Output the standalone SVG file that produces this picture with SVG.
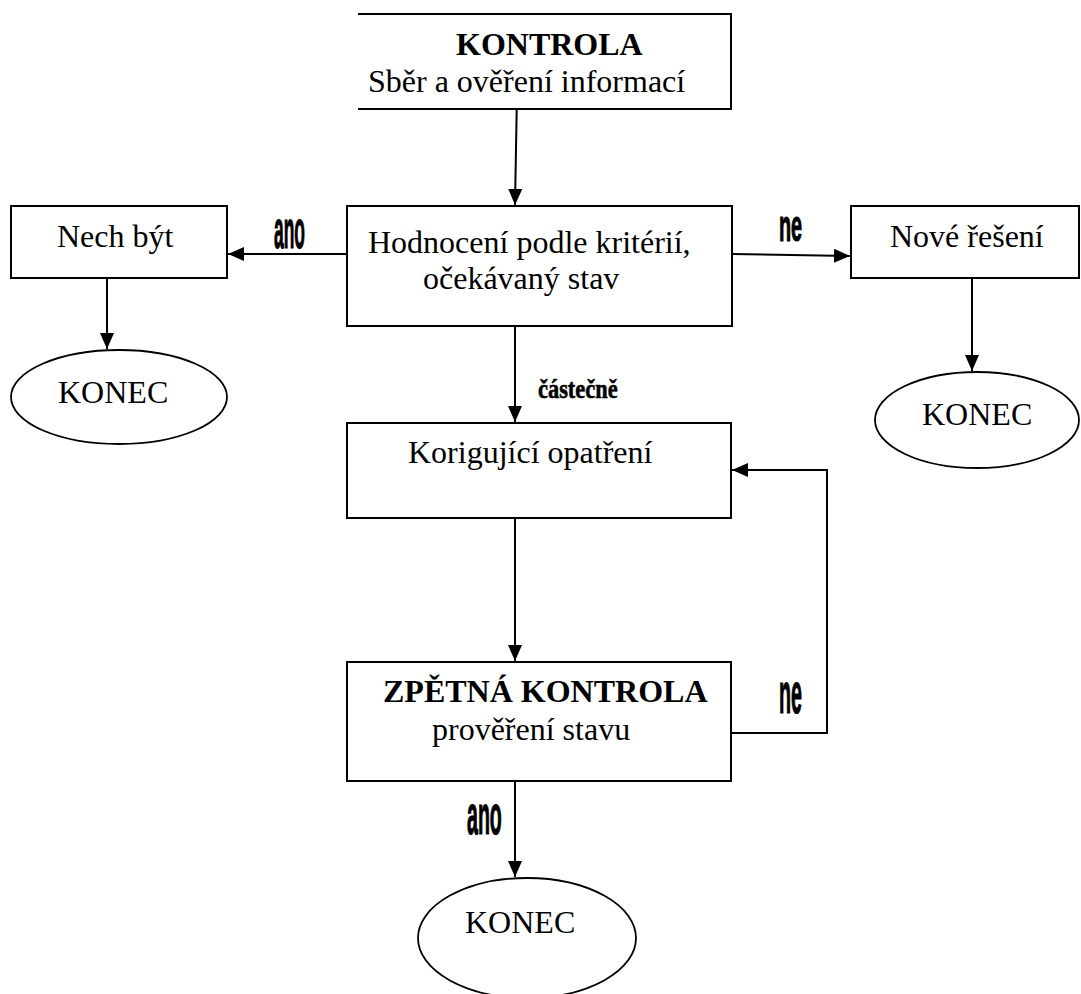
<svg xmlns="http://www.w3.org/2000/svg" width="1081" height="994" viewBox="0 0 1081 994">
<style>
.box{fill:#fff;stroke:#000;stroke-width:2}
.ell{fill:#fff;stroke:#000;stroke-width:1.8}
.t{font-family:"Liberation Serif","Times New Roman",serif;font-size:32px;fill:#000}
.b{font-weight:bold}
.lbl{font-family:"Liberation Sans",Arial,sans-serif;font-weight:bold;fill:#000;stroke:#000;stroke-width:1.2}
.con{fill:none;stroke:#000;stroke-width:2}
</style>
<defs>
<marker id="ah" viewBox="0 0 16 14" refX="16" refY="7" markerWidth="16" markerHeight="14" markerUnits="userSpaceOnUse" orient="auto">
<path d="M0,0 L16,7 L0,14 Z" fill="#000"/>
</marker>
</defs>
<rect width="1081" height="994" fill="#fff"/>
<g id="kontrola">
<path class="box" d="M358,14 H731 V109 H358" fill="none"/>
<text class="t b" x="456" y="55">KONTROLA</text>
<text class="t" x="368" y="92">Sběr a ověření informací</text>
</g>
<g id="hodnoceni">
<rect class="box" x="347" y="206" width="385" height="120"/>
<text class="t" x="368" y="253">Hodnocení podle kritérií,</text>
<text class="t" x="423" y="289">očekávaný stav</text>
</g>
<g id="nech">
<rect class="box" x="11" y="206" width="216" height="72"/>
<text class="t" x="57" y="247">Nech být</text>
</g>
<g id="nove">
<rect class="box" x="851" y="206" width="228" height="72"/>
<text class="t" x="890" y="247">Nové řešení</text>
</g>
<g id="konec1">
<ellipse class="ell" cx="119" cy="397" rx="108" ry="47"/>
<text class="t" x="58" y="403">KONEC</text>
</g>
<g id="konec2">
<ellipse class="ell" cx="977" cy="420" rx="102" ry="48"/>
<text class="t" x="922" y="425">KONEC</text>
</g>
<g id="korigujici">
<rect class="box" x="347" y="423" width="384" height="95"/>
<text class="t" x="408" y="463">Korigující opatření</text>
</g>
<g id="zpetna">
<rect class="box" x="347" y="662" width="384" height="119"/>
<text class="t b" x="383" y="702">ZPĚTNÁ KONTROLA</text>
<text class="t" x="432" y="740">prověření stavu</text>
</g>
<g id="konec3">
<ellipse class="ell" cx="527" cy="938" rx="109" ry="60"/>
<text class="t" x="465" y="933">KONEC</text>
</g>
<g id="connectors">
<path class="con" d="M516.7,109 L515,205" marker-end="url(#ah)"/>
<path class="con" d="M346,254 L228,254" marker-end="url(#ah)"/>
<path class="con" d="M732,254 L850,256" marker-end="url(#ah)"/>
<path class="con" d="M107,278 L107,349" marker-end="url(#ah)"/>
<path class="con" d="M972,278 L972,371" marker-end="url(#ah)"/>
<path class="con" d="M515,326 L515,422" marker-end="url(#ah)"/>
<path class="con" d="M515,518 L515,661" marker-end="url(#ah)"/>
<path class="con" d="M731,733 H827 V470 H732" marker-end="url(#ah)"/>
<path class="con" d="M515,782 L515,877" marker-end="url(#ah)"/>
<text class="lbl" font-size="54" transform="translate(274,248) scale(0.323,1)">ano</text>
<text class="lbl" font-size="44" transform="translate(779,241) scale(0.45,1)">ne</text>
<text class="lbl" font-size="28" transform="translate(538,398) scale(0.8,1)" style="font-family:'Liberation Serif',serif;stroke-width:0.6">částečně</text>
<text class="lbl" font-size="58" transform="translate(779,713) scale(0.34,1)">ne</text>
<text class="lbl" font-size="56" transform="translate(467,834) scale(0.35,1)">ano</text>
</g>
</svg>
